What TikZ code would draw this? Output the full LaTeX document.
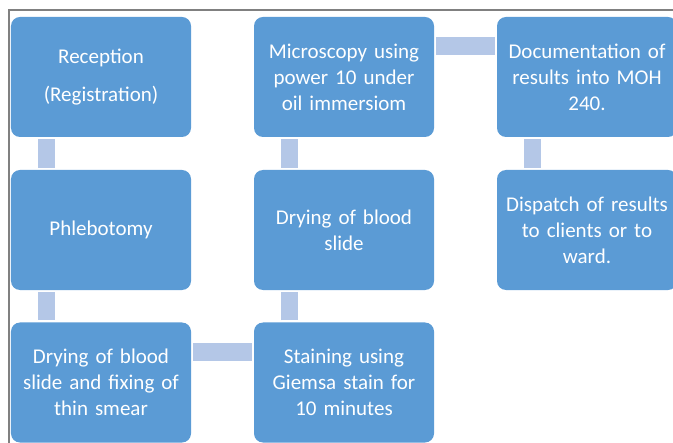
\documentclass[tikz,border=0pt]{standalone}
\usepackage{fontspec}
\setmainfont{Carlito}
\definecolor{boxblue}{HTML}{5B9BD5}
\definecolor{linkblue}{HTML}{B4C7E7}
\definecolor{framegray}{HTML}{808080}
\begin{document}
\begin{tikzpicture}[x=1bp,y=-1bp,
  stepbox/.style={rectangle, rounded corners=9bp, fill=boxblue, draw=none,
    minimum width=180bp, minimum height=120bp, inner sep=0pt,
    text=white, align=center, text width=172bp,
    font=\fontsize{21bp}{26bp}\selectfont},
  vlink/.style={draw=linkblue, line width=16.5bp},
  hlink/.style={draw=linkblue, line width=18bp}]
\useasboundingbox (0,0) rectangle (673,443);
% outer frame (top and left edges)
\draw[framegray, line width=2bp] (9,443) -- (9,10) -- (673,10);

% steps
\node[stepbox] (rec) at (101,77)  {Reception\\[12bp](Registration)};
\node[stepbox] (phl) at (101,230) {Phlebotomy};
\node[stepbox] (dry) at (101,382.5) {Drying of blood\\slide and fixing of\\thin smear};
\node[stepbox] (sta) at (344,382.5) {Staining using\\Giemsa stain for\\10 minutes};
\node[stepbox] (dbs) at (344,230) {Drying of blood\\slide};
\node[stepbox] (mic) at (344,77)  {Microscopy using\\power 10 under\\oil immersiom};
\node[stepbox] (doc) at (587,77)  {Documentation of\\results into MOH\\240.};
\node[stepbox] (dis) at (587,230) {Dispatch of results\\to clients or to\\ward.};

% connectors
\draw[vlink] ([xshift=35.5bp,yshift=-2bp]rec.south west) -- ([xshift=35.5bp,yshift=2bp]phl.north west);
\draw[vlink] ([xshift=35.5bp,yshift=-2bp]phl.south west) -- ([xshift=35.5bp,yshift=2bp]dry.north west);
\draw[hlink] ([xshift=2bp,yshift=-29.5bp]dry.north east) -- ([xshift=-2bp,yshift=-29.5bp]sta.north west);
\draw[vlink] ([xshift=35.5bp,yshift=2bp]sta.north west) -- ([xshift=35.5bp,yshift=-2bp]dbs.south west);
\draw[vlink] ([xshift=35.5bp,yshift=2bp]dbs.north west) -- ([xshift=35.5bp,yshift=-2bp]mic.south west);
\draw[hlink] ([xshift=2bp,yshift=-29bp]mic.north east) -- ([xshift=-2bp,yshift=-29bp]doc.north west);
\draw[vlink] ([xshift=35.5bp,yshift=-2bp]doc.south west) -- ([xshift=35.5bp,yshift=2bp]dis.north west);
\end{tikzpicture}
\end{document}
